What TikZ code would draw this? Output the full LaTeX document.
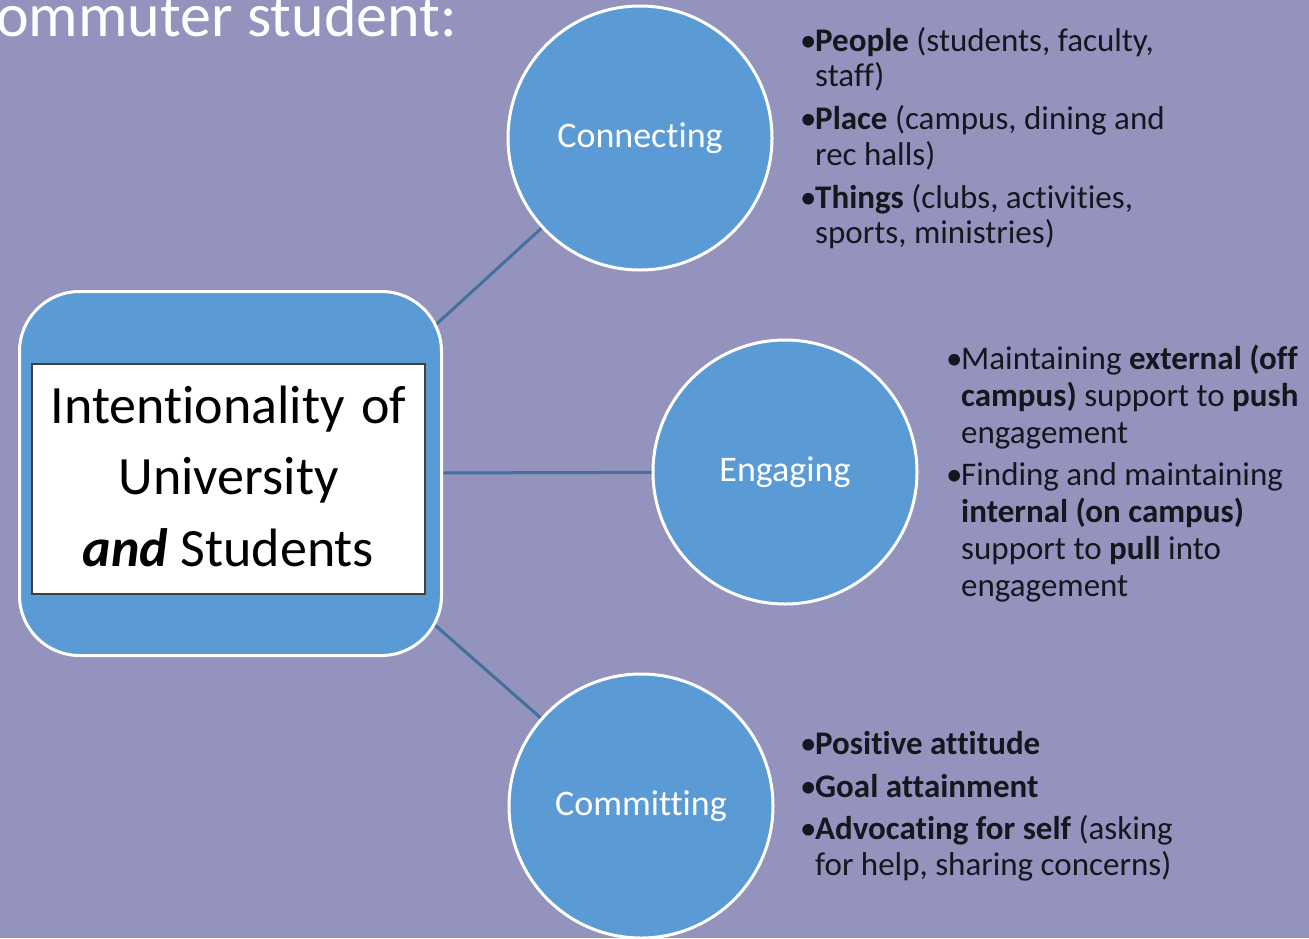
\documentclass[tikz,border=0pt]{standalone}
\usepackage{fontspec}
\setmainfont{Carlito}[Ligatures={NoCommon,NoRequired,NoContextual}]
\usetikzlibrary{backgrounds}
\definecolor{bgcol}{RGB}{147,147,189}
\definecolor{nodeblue}{RGB}{91,155,213}
\definecolor{linkblue}{RGB}{65,113,156}
\definecolor{txtcol}{RGB}{22,22,30}
\definecolor{innerframe}{RGB}{64,64,64}
\newcommand\bul{\hbox to 15pt{\textbullet\hss}}
\newcommand\ind{\kern15pt}
\begin{document}
\begin{tikzpicture}[x=1pt,y=-1pt,
  hub/.style={draw=white, line width=3pt, fill=nodeblue, rounded corners=60pt,
    minimum width=422pt, minimum height=364pt, inner sep=0pt},
  innerbox/.style={draw=innerframe, line width=1.2pt, fill=white,
    minimum width=393pt, minimum height=230pt, inner sep=0pt},
  stage/.style={circle, draw=white, line width=3pt, fill=nodeblue,
    minimum size=264pt, inner sep=0pt, text=white,
    font=\fontsize{36}{43}\selectfont},
  link/.style={draw=linkblue, line width=3pt},
  bullets/.style={inner sep=0pt, text=txtcol, font=\fontsize{33}{35}\selectfont},
  hubtext/.style={inner sep=0pt, text=black, font=\fontsize{54}{71}\selectfont},
  heading/.style={inner sep=0pt, text=white, font=\fontsize{62}{72}\selectfont}]
\useasboundingbox (0,0) rectangle (1309,938);

% nodes
\node[hub] (hub) at (230.5,473.5) {};
\node[innerbox] (inner) at (228.5,479) {};
\node[hubtext, anchor=base] (hubtxt) at (228.5,423) {\vtop{\baselineskip=71.5pt
  \halign{\hfil#\hfil\cr Intentionality\hspace{0.08em} of\cr University\cr \textbf{\textit{and}} Students\cr}}};

\node[stage] (conn) at (640,138) {Connecting};
\node[stage] (eng) at (785,472) {Engaging};
\node[stage] (comm) at (641,806) {Committing};

\node[heading, anchor=base west] (head) at (-4,36) {ommuter student:};

\node[bullets, anchor=base west] (ctext) at (800,51) {\vtop{\baselineskip=35.5pt
  \hbox{\bul\textbf{People} (students, faculty,}
  \hbox{\ind staff)}
  \vskip7.5pt
  \hbox{\bul\textbf{Place} (campus, dining and}
  \hbox{\ind rec halls)}
  \vskip7.5pt
  \hbox{\bul\textbf{Things} (clubs, activities,}
  \hbox{\ind sports, ministries)}}};

\node[bullets, anchor=base west] (etext) at (946,369) {\vtop{\baselineskip=37pt
  \hbox{\bul Maintaining \textbf{external (off}}
  \hbox{\ind\textbf{campus)} support to \textbf{push}}
  \hbox{\ind engagement}
  \vskip5pt
  \hbox{\bul Finding and maintaining}
  \hbox{\ind\textbf{internal (on campus)}}
  \hbox{\ind support to \textbf{pull} into}
  \hbox{\ind engagement}}};

\node[bullets, anchor=base west] (mtext) at (800,754) {\vtop{\baselineskip=36pt
  \hbox{\bul\textbf{Positive attitude}}
  \vskip7pt
  \hbox{\bul\textbf{Goal attainment}}
  \vskip6pt
  \hbox{\bul\textbf{Advocating for self} (asking}
  \hbox{\ind for help, sharing concerns)}}};

% background and connectors
\begin{scope}[on background layer]
  \fill[bgcol] (0,0) rectangle (1309,938);
  \draw[link] ([yshift=-39pt]hub.center) -- (conn.center);
  \draw[link] (hub.center) -- (eng.center);
  \draw[link] ([yshift=28pt]hub.center) -- (comm.center);
\end{scope}
\end{tikzpicture}
\end{document}
